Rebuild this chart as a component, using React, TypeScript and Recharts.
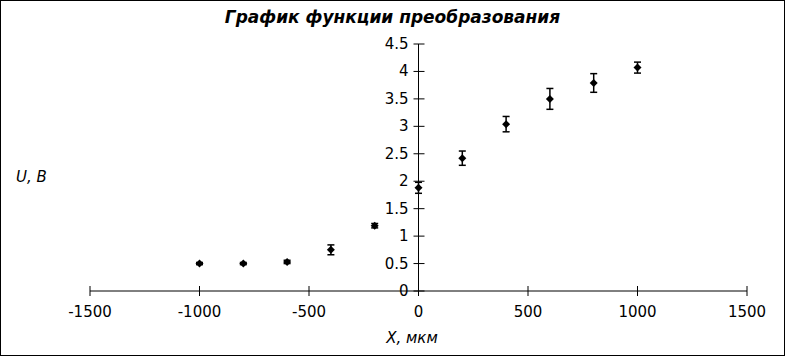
import React from 'react';
import { ScatterChart, Scatter, XAxis, YAxis, ErrorBar, ReferenceLine } from 'recharts';

// measurements
const xValues = [-1000, -800, -600, -400, -200, 0, 200, 400, 600, 800, 1000];
const uValues = [0.5, 0.5, 0.53, 0.75, 1.19, 1.88, 2.42, 3.04, 3.5, 3.79, 4.07];
const uErrors = [0.02, 0.02, 0.03, 0.09, 0.04, 0.1, 0.13, 0.14, 0.19, 0.17, 0.1];

const xTicks = [-1500, -1000, -500, 0, 500, 1000, 1500];
const yTicks = [0, 0.5, 1, 1.5, 2, 2.5, 3, 3.5, 4, 4.5];

const W = 785;
const H = 356;
const MARGIN = { top: 44, right: 38, bottom: 64, left: 89 };
const FONT = '"DejaVu Sans", Verdana, sans-serif';
// the y axis sits at x = 0, i.e. the middle of the plot area (axis width 1 added to left)
const PLOT_LEFT = MARGIN.left + 1;
const ZERO_X = PLOT_LEFT + (W - PLOT_LEFT - MARGIN.right) / 2;

const data = xValues.map((x, i) => ({ x, u: uValues[i], err: uErrors[i] }));

const XTick = (props: any) => {
  const { x, y, payload } = props;
  return (
    <g>
      <line x1={x} x2={x} y1={y - 5} y2={y + 5} stroke="#000" />
      <text x={x} y={y + 26} textAnchor="middle" fontSize={15} fontFamily={FONT} fill="#000">
        {payload.value}
      </text>
    </g>
  );
};

const YTick = (props: any) => {
  const { y, payload } = props;
  return (
    <g>
      <line x1={ZERO_X - 5} x2={ZERO_X + 6} y1={y} y2={y} stroke="#000" />
      <text x={ZERO_X - 10} y={y + 5} textAnchor="end" fontSize={15} fontFamily={FONT} fill="#000">
        {payload.value}
      </text>
    </g>
  );
};

const Diamond = (props: any) => {
  const { cx, cy } = props;
  const r = 4;
  return <polygon points={`${cx},${cy - r} ${cx + r},${cy} ${cx},${cy + r} ${cx - r},${cy}`} fill="#000" />;
};

const App = () => {
  return (
    <div style={{ position: 'absolute', left: 0, top: 0, width: W, height: H, background: '#fff' }}>
      <ScatterChart width={W} height={H} margin={MARGIN}>
        <XAxis
          type="number"
          dataKey="x"
          domain={[-1500, 1500]}
          ticks={xTicks}
          height={1}
          tickSize={0}
          tickMargin={0}
          tickLine={false}
          axisLine={{ stroke: '#000' }}
          tick={<XTick />}
          interval={0}
        />
        <YAxis
          type="number"
          dataKey="u"
          domain={[0, 4.5]}
          ticks={yTicks}
          width={1}
          tickSize={0}
          tickMargin={0}
          tickLine={false}
          axisLine={false}
          tick={<YTick />}
          interval={0}
        />
        <ReferenceLine x={0} stroke="#000" />
        <Scatter data={data} shape={<Diamond />} isAnimationActive={false}>
          <ErrorBar dataKey="err" direction="y" width={3.5} stroke="#000" strokeWidth={1.5} isAnimationActive={false} />
        </Scatter>
      </ScatterChart>
      <div
        style={{
          position: 'absolute', left: 0, top: 7, width: W, textAlign: 'center',
          fontFamily: FONT, fontSize: 17, fontWeight: 'bold', fontStyle: 'italic', lineHeight: '20px',
        }}
      >
        График функции преобразования
      </div>
      <div
        style={{
          position: 'absolute', left: 16, top: 167, fontFamily: FONT, fontSize: 15,
          fontStyle: 'italic', lineHeight: '20px',
        }}
      >
        U, В
      </div>
      <div
        style={{
          position: 'absolute', left: 312, top: 328, width: 200, textAlign: 'center',
          fontFamily: FONT, fontSize: 15, fontStyle: 'italic', lineHeight: '20px',
        }}
      >
        X, мкм
      </div>
      <div
        style={{
          position: 'absolute', left: 0, top: 0, width: W, height: H, boxSizing: 'border-box',
          border: '1px solid #000', pointerEvents: 'none',
        }}
      />
    </div>
  );
};

export default App;
